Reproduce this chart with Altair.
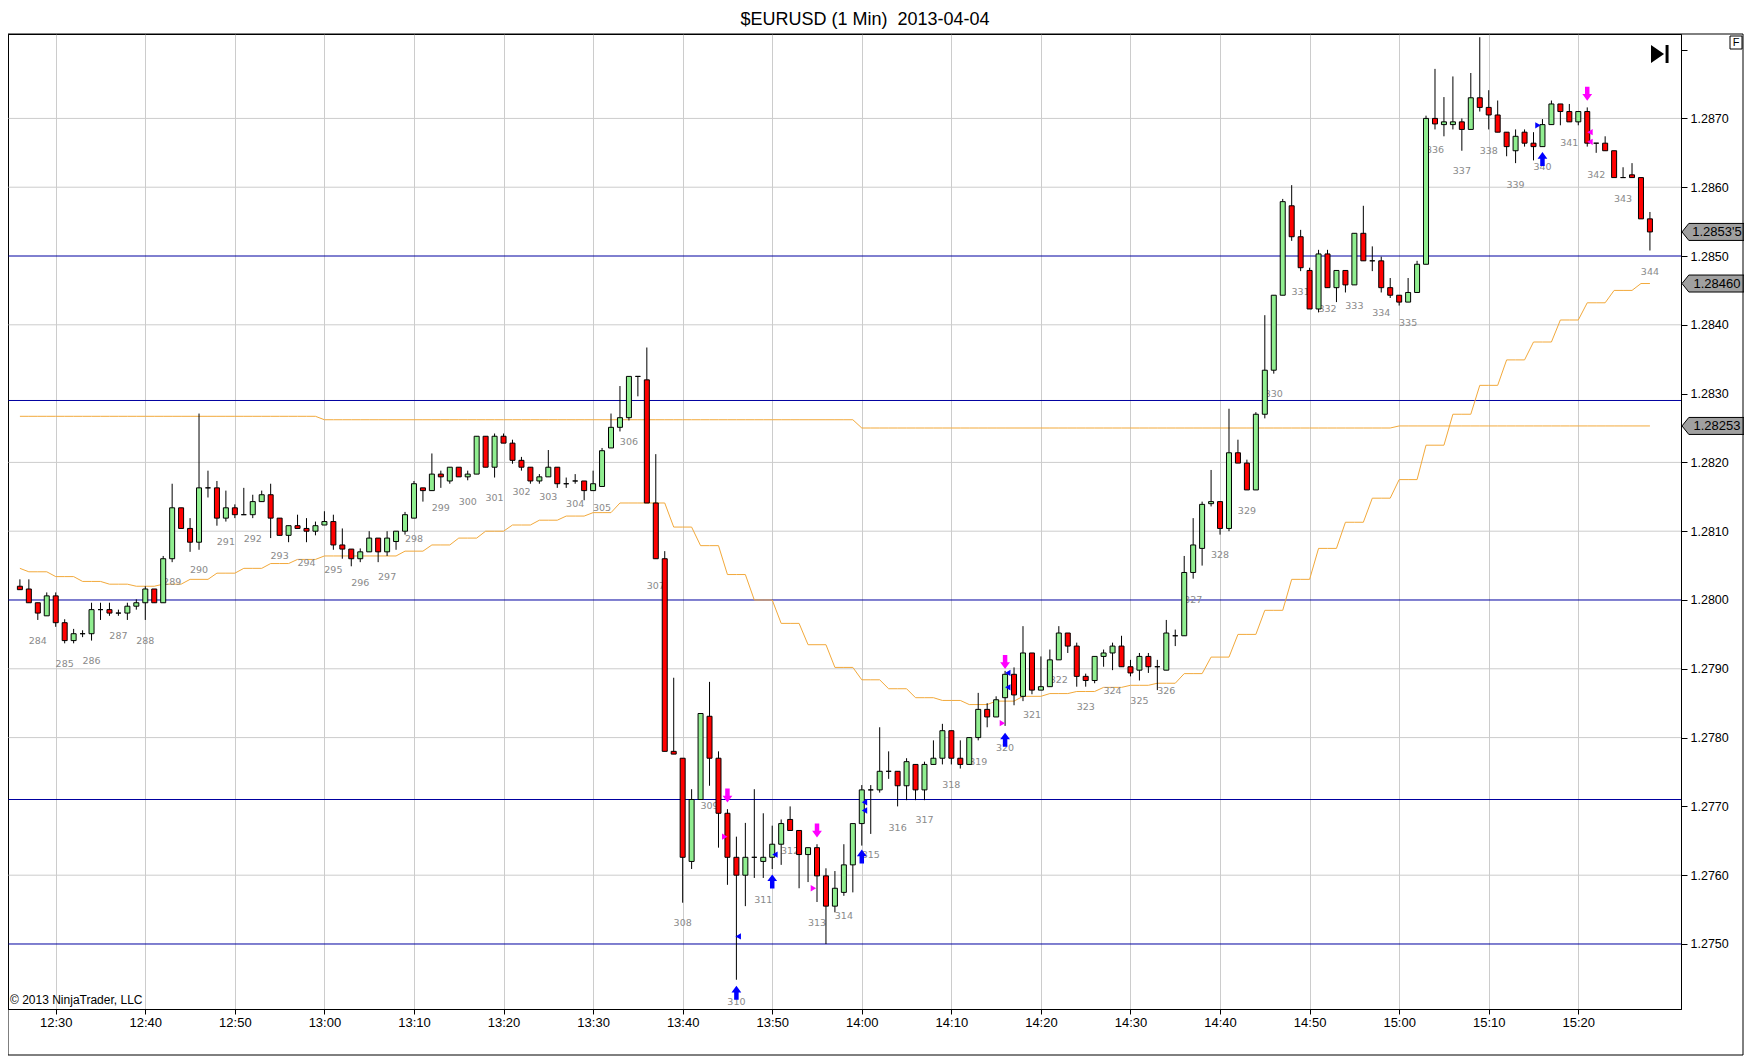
import altair as alt
import pandas as pd


def hm(s):
    h, m = s.split(":")
    return int(h) * 60 + float(m)


# one candle per minute, 12:26 ... 15:28
first_bar = "12:26"

opens = [
    1.28020, 1.28016, 1.27996, 1.27977,
    1.28006, 1.27967, 1.27941, 1.27951, 1.27951, 1.27986, 1.27986, 1.27981, 1.27981, 1.27991,
    1.27996, 1.28016, 1.27996, 1.28060, 1.28134, 1.28104, 1.28084, 1.28163, 1.28163, 1.28119,
    1.28134, 1.28124, 1.28124, 1.28143, 1.28153, 1.28119, 1.28094, 1.28108, 1.28104, 1.28100,
    1.28109, 1.28114, 1.28080, 1.28074, 1.28060, 1.28070, 1.28090, 1.28070, 1.28085, 1.28100,
    1.28119, 1.28163, 1.28159, 1.28183, 1.28173, 1.28193, 1.28179, 1.28183, 1.28238, 1.28193,
    1.28238, 1.28228, 1.28203, 1.28193, 1.28173, 1.28179, 1.28193, 1.28169, 1.28173, 1.28173,
    1.28159, 1.28165, 1.28221, 1.28251, 1.28265, 1.28325, 1.28320, 1.28141, 1.28060, 1.27780,
    1.27770, 1.27620, 1.27710, 1.27831, 1.27770, 1.27690, 1.27626, 1.27600, 1.27626, 1.27620,
    1.27626, 1.27645, 1.27681, 1.27665, 1.27630, 1.27640, 1.27599, 1.27555, 1.27575, 1.27615,
    1.27675, 1.27724, 1.27724, 1.27751, 1.27751, 1.27730, 1.27761, 1.27724, 1.27761, 1.27770,
    1.27810, 1.27770, 1.27761, 1.27800, 1.27841, 1.27830, 1.27858, 1.27892, 1.27860, 1.27923,
    1.27869, 1.27874, 1.27913, 1.27952, 1.27933, 1.27889, 1.27883, 1.27918, 1.27923, 1.27933,
    1.27903, 1.27898, 1.27918, 1.27903, 1.27898, 1.27948, 1.27948, 1.28040, 1.28075, 1.28140,
    1.28143, 1.28104, 1.28214, 1.28199, 1.28160, 1.28270, 1.28334, 1.28443, 1.28573, 1.28528,
    1.28479, 1.28423, 1.28503, 1.28454, 1.28479, 1.28458, 1.28533, 1.28493, 1.28493, 1.28454,
    1.28443, 1.28433, 1.28447, 1.28488, 1.28700, 1.28691, 1.28691, 1.28695, 1.28684, 1.28730,
    1.28716, 1.28705, 1.28680, 1.28653, 1.28680, 1.28664, 1.28659, 1.28691, 1.28721, 1.28710,
    1.28695, 1.28710, 1.28664, 1.28664, 1.28653, 1.28614, 1.28618, 1.28614, 1.28554,
]
highs = [
    1.28030, 1.28030, 1.27996, 1.28011,
    1.28011, 1.27972, 1.27958, 1.27956, 1.27996, 1.27996, 1.27996, 1.27986, 1.27996, 1.28001,
    1.28020, 1.28016, 1.28064, 1.28169, 1.28134, 1.28119, 1.28271, 1.28188, 1.28173, 1.28159,
    1.28139, 1.28163, 1.28153, 1.28159, 1.28169, 1.28119, 1.28108, 1.28124, 1.28119, 1.28114,
    1.28129, 1.28124, 1.28104, 1.28074, 1.28075, 1.28100, 1.28090, 1.28100, 1.28100, 1.28128,
    1.28173, 1.28163, 1.28213, 1.28188, 1.28193, 1.28193, 1.28188, 1.28238, 1.28238, 1.28242,
    1.28242, 1.28233, 1.28208, 1.28193, 1.28183, 1.28218, 1.28193, 1.28178, 1.28183, 1.28173,
    1.28188, 1.28221, 1.28271, 1.28311, 1.28325, 1.28325, 1.28367, 1.28212, 1.28071, 1.27887,
    1.27770, 1.27725, 1.27835, 1.27881, 1.27780, 1.27696, 1.27656, 1.27676, 1.27725, 1.27690,
    1.27672, 1.27681, 1.27700, 1.27665, 1.27640, 1.27645, 1.27610, 1.27606, 1.27645, 1.27675,
    1.27731, 1.27731, 1.27815, 1.27780, 1.27751, 1.27770, 1.27761, 1.27765, 1.27796, 1.27820,
    1.27810, 1.27796, 1.27800, 1.27865, 1.27850, 1.27860, 1.27897, 1.27902, 1.27962, 1.27923,
    1.27918, 1.27928, 1.27962, 1.27952, 1.27938, 1.27893, 1.27918, 1.27928, 1.27938, 1.27948,
    1.27913, 1.27923, 1.27923, 1.27913, 1.27971, 1.27957, 1.28064, 1.28119, 1.28143, 1.28189,
    1.28143, 1.28278, 1.28233, 1.28204, 1.28273, 1.28414, 1.28443, 1.28583, 1.28603, 1.28538,
    1.28483, 1.28509, 1.28509, 1.28479, 1.28479, 1.28533, 1.28573, 1.28514, 1.28499, 1.28468,
    1.28443, 1.28468, 1.28493, 1.28704, 1.28772, 1.28731, 1.28761, 1.28700, 1.28766, 1.28818,
    1.28741, 1.28726, 1.28680, 1.28684, 1.28684, 1.28680, 1.28699, 1.28726, 1.28721, 1.28721,
    1.28710, 1.28716, 1.28664, 1.28674, 1.28653, 1.28629, 1.28635, 1.28614, 1.28564,
]
lows = [
    1.28015, 1.27996, 1.27971, 1.27977,
    1.27961, 1.27937, 1.27937, 1.27946, 1.27941, 1.27971, 1.27977, 1.27977, 1.27971, 1.27986,
    1.27971, 1.27996, 1.27996, 1.28055, 1.28104, 1.28070, 1.28073, 1.28149, 1.28108, 1.28114,
    1.28119, 1.28124, 1.28119, 1.28143, 1.28090, 1.28094, 1.28084, 1.28104, 1.28084, 1.28094,
    1.28109, 1.28073, 1.28060, 1.28049, 1.28055, 1.28070, 1.28055, 1.28064, 1.28073, 1.28095,
    1.28119, 1.28143, 1.28159, 1.28163, 1.28169, 1.28179, 1.28174, 1.28183, 1.28193, 1.28178,
    1.28228, 1.28198, 1.28188, 1.28169, 1.28169, 1.28179, 1.28163, 1.28163, 1.28169, 1.28145,
    1.28159, 1.28165, 1.28221, 1.28245, 1.28261, 1.28296, 1.28141, 1.28060, 1.27780, 1.27776,
    1.27560, 1.27609, 1.27710, 1.27730, 1.27640, 1.27586, 1.27448, 1.27555, 1.27596, 1.27596,
    1.27609, 1.27615, 1.27665, 1.27581, 1.27590, 1.27561, 1.27500, 1.27546, 1.27570, 1.27575,
    1.27643, 1.27660, 1.27720, 1.27740, 1.27700, 1.27709, 1.27709, 1.27709, 1.27761, 1.27761,
    1.27761, 1.27755, 1.27761, 1.27796, 1.27815, 1.27830, 1.27817, 1.27847, 1.27853, 1.27863,
    1.27869, 1.27874, 1.27913, 1.27923, 1.27874, 1.27874, 1.27879, 1.27903, 1.27898, 1.27903,
    1.27889, 1.27883, 1.27894, 1.27869, 1.27898, 1.27933, 1.27948, 1.28031, 1.28050, 1.28136,
    1.28095, 1.28100, 1.28199, 1.28160, 1.28160, 1.28264, 1.28329, 1.28443, 1.28522, 1.28478,
    1.28423, 1.28418, 1.28454, 1.28433, 1.28447, 1.28458, 1.28493, 1.28478, 1.28447, 1.28439,
    1.28428, 1.28433, 1.28447, 1.28488, 1.28684, 1.28674, 1.28684, 1.28653, 1.28684, 1.28710,
    1.28684, 1.28680, 1.28645, 1.28635, 1.28659, 1.28639, 1.28659, 1.28691, 1.28690, 1.28695,
    1.28690, 1.28659, 1.28650, 1.28653, 1.28614, 1.28614, 1.28614, 1.28554, 1.28508,
]
closes = [
    1.28015, 1.27996, 1.27981, 1.28006,
    1.27967, 1.27941, 1.27951, 1.27951, 1.27986, 1.27986, 1.27981, 1.27981, 1.27991, 1.27996,
    1.28016, 1.27996, 1.28060, 1.28134, 1.28104, 1.28084, 1.28163, 1.28163, 1.28119, 1.28134,
    1.28124, 1.28124, 1.28143, 1.28153, 1.28119, 1.28094, 1.28108, 1.28104, 1.28100, 1.28108,
    1.28114, 1.28080, 1.28074, 1.28060, 1.28070, 1.28090, 1.28070, 1.28090, 1.28100, 1.28124,
    1.28169, 1.28159, 1.28183, 1.28179, 1.28193, 1.28179, 1.28183, 1.28238, 1.28193, 1.28238,
    1.28228, 1.28203, 1.28193, 1.28173, 1.28179, 1.28193, 1.28169, 1.28169, 1.28173, 1.28159,
    1.28169, 1.28217, 1.28251, 1.28265, 1.28325, 1.28325, 1.28141, 1.28060, 1.27780, 1.27776,
    1.27626, 1.27710, 1.27835, 1.27770, 1.27690, 1.27626, 1.27600, 1.27626, 1.27626, 1.27626,
    1.27645, 1.27675, 1.27665, 1.27630, 1.27640, 1.27599, 1.27555, 1.27581, 1.27615, 1.27675,
    1.27724, 1.27724, 1.27751, 1.27751, 1.27730, 1.27765, 1.27724, 1.27761, 1.27770, 1.27810,
    1.27770, 1.27761, 1.27800, 1.27841, 1.27830, 1.27855, 1.27892, 1.27862, 1.27923, 1.27869,
    1.27874, 1.27913, 1.27952, 1.27933, 1.27889, 1.27883, 1.27918, 1.27923, 1.27933, 1.27903,
    1.27894, 1.27918, 1.27903, 1.27903, 1.27952, 1.27948, 1.28040, 1.28080, 1.28139, 1.28143,
    1.28104, 1.28214, 1.28199, 1.28160, 1.28270, 1.28334, 1.28443, 1.28579, 1.28528, 1.28483,
    1.28423, 1.28503, 1.28454, 1.28479, 1.28458, 1.28533, 1.28493, 1.28493, 1.28454, 1.28443,
    1.28433, 1.28447, 1.28488, 1.28700, 1.28692, 1.28695, 1.28695, 1.28684, 1.28730, 1.28716,
    1.28705, 1.28680, 1.28659, 1.28674, 1.28664, 1.28659, 1.28691, 1.28721, 1.28710, 1.28695,
    1.28710, 1.28664, 1.28664, 1.28653, 1.28614, 1.28614, 1.28614, 1.28554, 1.28535,
]

# stepped indicator lines: value holds from each start time to the next
lower_from = ["12:26", "12:27", "12:30", "12:33", "12:36", "12:39", "12:42", "12:45",
              "12:48", "12:51", "12:54", "12:57", "13:00", "13:09", "13:12", "13:15",
              "13:18", "13:21", "13:24", "13:27", "13:30", "13:33", "13:39", "13:42",
              "13:45", "13:48", "13:51", "13:54", "13:57", "14:00", "14:03", "14:06",
              "14:09", "14:12", "14:15", "14:18", "14:21", "14:24", "14:27", "14:30",
              "14:33", "14:36", "14:39", "14:42", "14:45", "14:48", "14:51", "14:54",
              "14:57", "15:00", "15:03", "15:06", "15:09", "15:12", "15:15", "15:18",
              "15:21", "15:24", "15:27"]
lower_vals = [1.28046, 1.28041, 1.28034, 1.28027, 1.28023, 1.28020, 1.28023, 1.28030,
              1.28039, 1.28046, 1.28053, 1.28059, 1.28064, 1.28071, 1.28080, 1.28090,
              1.28100, 1.28109, 1.28116, 1.28122, 1.28127, 1.28141, 1.28106, 1.28079,
              1.28037, 1.28000, 1.27966, 1.27935, 1.27902, 1.27884, 1.27871, 1.27858,
              1.27854, 1.27848, 1.27853, 1.27860, 1.27864, 1.27867, 1.27873, 1.27876,
              1.27879, 1.27893, 1.27917, 1.27950, 1.27985, 1.28030, 1.28075, 1.28113,
              1.28148, 1.28175, 1.28225, 1.28270, 1.28312, 1.28349, 1.28375, 1.28407,
              1.28432, 1.28450, 1.28460]
upper_from = ["12:26", "13:00", "14:00", "15:00"]
upper_vals = [1.28267, 1.28262, 1.28250, 1.28253]

blue_levels = [1.2850, 1.2829, 1.2800, 1.2771, 1.2750]
grid_levels = [1.2760, 1.2780, 1.2790, 1.2810, 1.2820, 1.2840, 1.2860, 1.2870]
price_ticks = [1.2750, 1.2760, 1.2770, 1.2780, 1.2790, 1.2800, 1.2810, 1.2820,
               1.2830, 1.2840, 1.2850, 1.2860, 1.2870, 1.2880]
time_ticks = ["12:30", "12:40", "12:50", "13:00", "13:10", "13:20", "13:30", "13:40", "13:50",
              "14:00", "14:10", "14:20", "14:30", "14:40", "14:50", "15:00", "15:10", "15:20"]

# bar counter labels, one every 3 bars starting with 284 at 12:28
label_first = 284
label_start = "12:28"
label_prices = [1.27941, 1.27907, 1.27911, 1.27947, 1.27941, 1.28026, 1.28044, 1.28084,
                1.28088, 1.28064, 1.28054, 1.28044, 1.28025, 1.28034, 1.28089, 1.28133,
                1.28143, 1.28148, 1.28157, 1.28149, 1.28139, 1.28133, 1.28230, 1.28020,
                1.27530, 1.27701, 1.27415, 1.27564, 1.27635, 1.27530, 1.27540, 1.27630,
                1.27669, 1.27680, 1.27731, 1.27765, 1.27785, 1.27833, 1.27883, 1.27844,
                1.27868, 1.27853, 1.27868, 1.28000, 1.28065, 1.28129, 1.28299, 1.28447,
                1.28423, 1.28428, 1.28417, 1.28403, 1.28654, 1.28623, 1.28653, 1.28603,
                1.28629, 1.28664, 1.28618, 1.28583, 1.28477]

up_times = ["13:46", "13:50", "14:00", "14:16", "15:16"]
up_prices = [1.27429, 1.27591, 1.27627, 1.27797, 1.28641]
down_times = ["13:45", "13:55", "14:16", "15:21"]
down_prices = [1.27716, 1.27665, 1.27910, 1.28736]
tri_times = ["13:44.7", "13:46.2", "13:50.3", "13:54.6", "14:00.3", "14:00.3",
             "14:15.7", "14:16.3", "14:16.3", "15:15.5", "15:21.3", "15:21.3"]
tri_prices = [1.27656, 1.27511, 1.27630, 1.27581, 1.27706, 1.27694,
              1.27821, 1.27894, 1.27873, 1.28690, 1.28680, 1.28666]
tri_shapes = ["triangle-right", "triangle-left", "triangle-left", "triangle-right",
              "triangle-left", "triangle-left", "triangle-right", "triangle-left",
              "triangle-left", "triangle-right", "triangle-left", "triangle-left"]
tri_colors = ["#ff00ff", "#0000ff", "#0000ff", "#ff00ff", "#0000ff", "#0000ff",
              "#ff00ff", "#0000ff", "#0000ff", "#0000ff", "#ff00ff", "#ff00ff"]

tag_prices = [1.28535, 1.28460, 1.28253]
tag_texts = ["1.2853'5", "1.28460", "1.28253"]

title_text = "$EURUSD (1 Min) \u00a02013-04-04"

# ---- frames ----
t0 = hm(first_bar)
minutes = [t0 + i for i in range(len(opens))]


def hold(starts, values):
    out = []
    for t in minutes:
        v = values[0]
        for s, val in zip(starts, values):
            if hm(s) <= t:
                v = val
        out.append(v)
    return out


candles = pd.DataFrame({"t": minutes, "o": opens, "h": highs, "l": lows, "c": closes})
candles["dir"] = ["up" if c > o else ("down" if c < o else "flat") for o, c in zip(opens, closes)]

lines = pd.DataFrame({"t": minutes, "lower": hold(lower_from, lower_vals),
                      "upper": hold(upper_from, upper_vals)})

labels = pd.DataFrame({
    "t": [hm(label_start) + 3 * i for i in range(len(label_prices))],
    "p": label_prices,
    "txt": [str(label_first + i) for i in range(len(label_prices))],
})

ups = pd.DataFrame({"t": [hm(s) for s in up_times], "p": up_prices})
downs = pd.DataFrame({"t": [hm(s) for s in down_times], "p": down_prices})
tris = pd.DataFrame({"t": [hm(s) for s in tri_times], "p": tri_prices,
                     "shape": tri_shapes, "col": tri_colors})
tags = pd.DataFrame({"p": tag_prices, "txt": tag_texts})

# ---- scales & axes ----
x_scale = alt.Scale(domain=[745.23, 930.91], nice=False, zero=False)
y_scale = alt.Scale(domain=[1.274055, 1.288227], nice=False, zero=False)

x_axis = alt.Axis(
    values=[hm(s) for s in time_ticks], title=None, grid=True, gridColor="#cccccc",
    labelExpr="floor(datum.value / 60) + ':' + (datum.value % 60 < 10 ? '0' : '') + (datum.value % 60)",
    tickColor="black", tickSize=5, domainColor="black", labelColor="black",
    labelFont="Liberation Sans", labelFontSize=13, labelPadding=2, labelFlush=False,
)
y_axis = alt.Axis(
    orient="right", values=price_ticks, title=None, grid=False,
    labelExpr="datum.value > 1.28795 ? '' : format(datum.value, '.4f')",
    tickColor="black", tickSize=6, domainColor="black", labelColor="black",
    labelFont="Liberation Sans", labelFontSize=12.5, labelPadding=3,
)


def X(f="t:Q"):
    return alt.X(f, scale=x_scale, axis=x_axis)


def Y(f):
    return alt.Y(f, scale=y_scale, axis=y_axis)


base = alt.Chart(candles)

grid = alt.Chart(pd.DataFrame({"p": grid_levels})).mark_rule(
    color="#cccccc", strokeWidth=1).encode(y=Y("p:Q"))
blue = alt.Chart(pd.DataFrame({"p": blue_levels})).mark_rule(
    color="#0000a0", strokeWidth=1).encode(y=Y("p:Q"))

lower_line = alt.Chart(lines).mark_line(color="#f2a93b", strokeWidth=1).encode(x=X(), y=Y("lower:Q"))
upper_line = alt.Chart(lines).mark_line(color="#f2a93b", strokeWidth=1).encode(x=X(), y=Y("upper:Q"))

bar_labels = alt.Chart(labels).mark_text(
    font="DejaVu Sans", fontSize=9.5, color="#8a8a8a", baseline="middle", align="center"
).encode(x=X(), y=Y("p:Q"), text="txt:N")

wicks = base.mark_rule(color="black", strokeWidth=1).encode(x=X(), y=Y("l:Q"), y2="h:Q")
bodies = base.mark_bar(size=5, stroke="black", strokeWidth=1).encode(
    x=X(), y=Y("o:Q"), y2="c:Q",
    color=alt.Color("dir:N", legend=None, scale=alt.Scale(
        domain=["up", "down", "flat"], range=["#90ee90", "#ff0000", "#000000"])),
)

up_path = "M-0.32,1L0.32,1L0.32,-0.05L0.7,-0.05L0,-1L-0.7,-0.05L-0.32,-0.05Z"
down_path = "M-0.32,-1L0.32,-1L0.32,0.05L0.7,0.05L0,1L-0.7,0.05L-0.32,0.05Z"
up_marks = alt.Chart(ups).mark_point(shape=up_path, filled=True, color="#0000ff", size=196,
                                     opacity=1).encode(x=X(), y=Y("p:Q"))
down_marks = alt.Chart(downs).mark_point(shape=down_path, filled=True, color="#ff00ff", size=196,
                                         opacity=1).encode(x=X(), y=Y("p:Q"))
tri_marks = alt.Chart(tris).mark_point(filled=True, size=40, opacity=1).encode(
    x=X(), y=Y("p:Q"),
    shape=alt.Shape("shape:N", scale=None),
    color=alt.Color("col:N", scale=None),
)

tag_path = "M-1,0L-0.78,-0.274L1,-0.274L1,0.274L-0.78,0.274Z"
tag_boxes = alt.Chart(tags).mark_point(
    shape=tag_path, filled=True, fill="#a0a0a0", stroke="black", strokeWidth=1, size=3844, opacity=1
).encode(x=alt.value(1705), y=Y("p:Q"))
tag_text = alt.Chart(tags).mark_text(
    font="Liberation Sans", fontSize=13, color="black", baseline="middle", align="center"
).encode(x=alt.value(1709), y=Y("p:Q"), text="txt:N")

one = pd.DataFrame({"s": [title_text]})
title = alt.Chart(one).mark_text(
    font="Liberation Sans", fontSize=18, color="black", baseline="middle", align="center"
).encode(x=alt.value(857), y=alt.value(-14), text="s:N")
copyright_ = alt.Chart(pd.DataFrame({"s": ["\u00a9 2013 NinjaTrader, LLC"]})).mark_text(
    font="Liberation Sans", fontSize=12, color="black", baseline="alphabetic", align="left"
).encode(x=alt.value(2), y=alt.value(970), text="s:N")

play_path = "M-1,-1L0.45,0L-1,1Z M0.62,-1L0.95,-1L0.95,1L0.62,1Z"
play = alt.Chart(one).mark_point(shape=play_path, filled=True, color="black", size=324,
                                 opacity=1).encode(x=alt.value(1652), y=alt.value(20))
f_box = alt.Chart(one).mark_rect(fill="white", stroke="black", strokeWidth=1).encode(
    x=alt.value(1722), x2=alt.value(1734), y=alt.value(2), y2=alt.value(15))
f_text = alt.Chart(pd.DataFrame({"s": ["F"]})).mark_text(
    font="Liberation Sans", fontSize=11, color="black", baseline="middle", align="center"
).encode(x=alt.value(1728), y=alt.value(9), text="s:N")
frame = alt.Chart(one).mark_rect(fillOpacity=0, stroke="black", strokeWidth=1).encode(
    x=alt.value(0), x2=alt.value(1735), y=alt.value(0), y2=alt.value(1021))

chart = alt.layer(
    grid, blue, upper_line, lower_line, bar_labels, wicks, bodies,
    up_marks, down_marks, tri_marks, tag_boxes, tag_text,
    title, copyright_, play, f_box, f_text, frame,
).properties(
    width=1673, height=975, autosize="none",
    padding={"left": 0, "top": 26, "right": 63, "bottom": 47},
    background="white",
).configure_view(stroke="black", strokeWidth=1)

chart.save("out.html", embed_options={"renderer": "svg", "actions": False})
